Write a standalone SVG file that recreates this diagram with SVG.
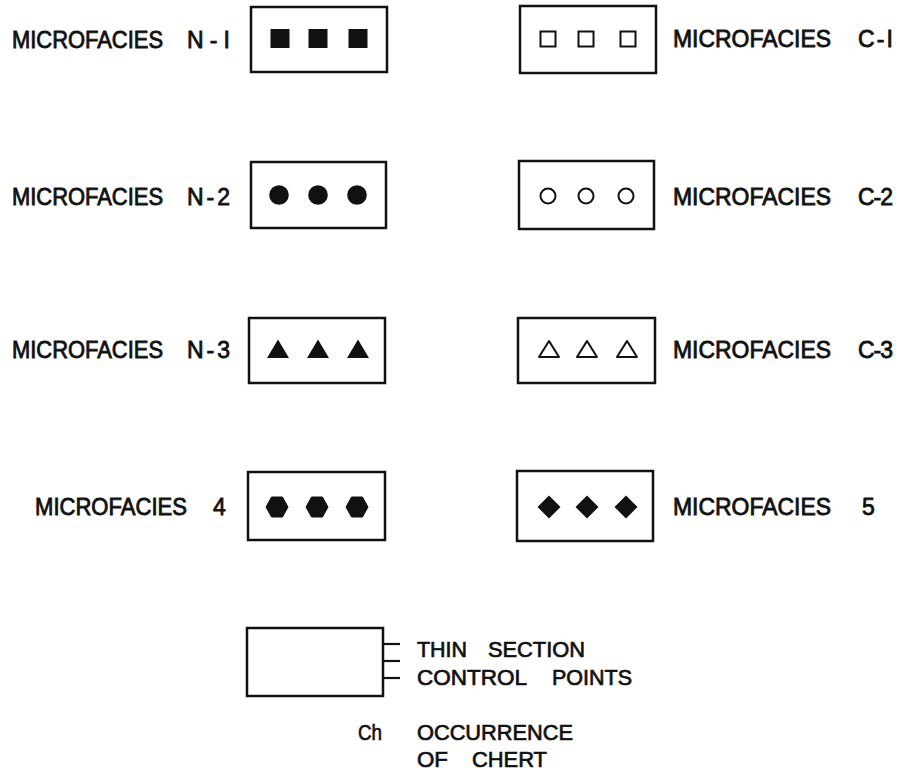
<svg xmlns="http://www.w3.org/2000/svg" xmlns:xlink="http://www.w3.org/1999/xlink" width="908" height="771" viewBox="0 0 908 771">
  <style>
    .box { fill: none; stroke: #111; stroke-width: 2.5; }
    .lbl { font-family: "Liberation Sans", Arial, sans-serif; font-size: 23px; fill: #111; stroke: #111; stroke-width: 0.8; }
    .leg { font-family: "Liberation Sans", Arial, sans-serif; font-size: 22px; fill: #111; stroke: #111; stroke-width: 0.7; }
    .tick { stroke: #111; stroke-width: 2.2; }
    .solid { fill: #111; }
    .open { fill: none; stroke: #111; stroke-width: 2; }
  </style>
  <defs>
    <rect id="sq-fill" class="solid" x="-9.5" y="-9.5" width="19" height="19"/>
    <rect id="sq-open" class="open" x="-7.5" y="-7.5" width="15" height="15"/>
    <circle id="ci-fill" class="solid" r="9.8"/>
    <circle id="ci-open" class="open" r="7.5"/>
    <polygon id="tr-fill" class="solid" points="0,-9.5 11,9 -11,9"/>
    <polygon id="tr-open" class="open" points="0,-8 10,8 -10,8" stroke-linejoin="round"/>
    <polygon id="hex-fill" class="solid" points="-11,0 -5.5,-10 5.5,-10 11,0 5.5,10 -5.5,10" stroke="#111" stroke-width="1" stroke-linejoin="round"/>
    <polygon id="dia-fill" class="solid" points="0,-11.5 11.5,0 0,11.5 -11.5,0"/>
  </defs>
  <rect width="908" height="771" fill="#fff"/>

  <!-- Microfacies N-1 -->
  <g id="n1">
    <text class="lbl" x="12" y="48" textLength="151" lengthAdjust="spacingAndGlyphs">MICROFACIES</text>
    <text class="lbl" x="187" y="48" textLength="43" lengthAdjust="spacing">N-I</text>
    <rect class="box" x="251" y="7" width="136" height="65"/>
    <use xlink:href="#sq-fill" x="280" y="38.5"/>
    <use xlink:href="#sq-fill" x="318" y="38.5"/>
    <use xlink:href="#sq-fill" x="358" y="38.5"/>
  </g>

  <!-- Microfacies C-1 -->
  <g id="c1">
    <rect class="box" x="520" y="6" width="136" height="67"/>
    <use xlink:href="#sq-open" x="548" y="39"/>
    <use xlink:href="#sq-open" x="586" y="39"/>
    <use xlink:href="#sq-open" x="628" y="39"/>
    <text class="lbl" x="673" y="47" textLength="158" lengthAdjust="spacingAndGlyphs">MICROFACIES</text>
    <text class="lbl" x="858" y="47" textLength="35" lengthAdjust="spacing">C-I</text>
  </g>

  <!-- Microfacies N-2 -->
  <g id="n2">
    <text class="lbl" x="12" y="205" textLength="151" lengthAdjust="spacingAndGlyphs">MICROFACIES</text>
    <text class="lbl" x="187" y="205" textLength="43" lengthAdjust="spacing">N-2</text>
    <rect class="box" x="251" y="162" width="135" height="66"/>
    <use xlink:href="#ci-fill" x="279" y="195"/>
    <use xlink:href="#ci-fill" x="318" y="195"/>
    <use xlink:href="#ci-fill" x="357" y="195"/>
  </g>

  <!-- Microfacies C-2 -->
  <g id="c2">
    <rect class="box" x="519" y="161" width="135" height="68"/>
    <use xlink:href="#ci-open" x="548" y="196"/>
    <use xlink:href="#ci-open" x="586" y="196"/>
    <use xlink:href="#ci-open" x="626" y="196"/>
    <text class="lbl" x="673" y="205" textLength="158" lengthAdjust="spacingAndGlyphs">MICROFACIES</text>
    <text class="lbl" x="858" y="205" textLength="35" lengthAdjust="spacing">C-2</text>
  </g>

  <!-- Microfacies N-3 -->
  <g id="n3">
    <text class="lbl" x="12" y="358" textLength="151" lengthAdjust="spacingAndGlyphs">MICROFACIES</text>
    <text class="lbl" x="187" y="358" textLength="43" lengthAdjust="spacing">N-3</text>
    <rect class="box" x="249" y="318" width="136" height="65"/>
    <use xlink:href="#tr-fill" x="278" y="349"/>
    <use xlink:href="#tr-fill" x="318" y="349"/>
    <use xlink:href="#tr-fill" x="358" y="349"/>
  </g>

  <!-- Microfacies C-3 -->
  <g id="c3">
    <rect class="box" x="518" y="318" width="137" height="65"/>
    <use xlink:href="#tr-open" x="549" y="349"/>
    <use xlink:href="#tr-open" x="587" y="349"/>
    <use xlink:href="#tr-open" x="627" y="349"/>
    <text class="lbl" x="673" y="358" textLength="158" lengthAdjust="spacingAndGlyphs">MICROFACIES</text>
    <text class="lbl" x="858" y="358" textLength="35" lengthAdjust="spacing">C-3</text>
  </g>

  <!-- Microfacies 4 -->
  <g id="m4">
    <text class="lbl" x="35" y="515" textLength="152" lengthAdjust="spacingAndGlyphs">MICROFACIES</text>
    <text class="lbl" x="213" y="515">4</text>
    <rect class="box" x="248" y="472" width="137" height="68"/>
    <use xlink:href="#hex-fill" x="277" y="507"/>
    <use xlink:href="#hex-fill" x="317" y="507"/>
    <use xlink:href="#hex-fill" x="357" y="507"/>
  </g>

  <!-- Microfacies 5 -->
  <g id="m5">
    <rect class="box" x="517" y="471" width="136" height="70"/>
    <use xlink:href="#dia-fill" x="549" y="507"/>
    <use xlink:href="#dia-fill" x="587" y="507"/>
    <use xlink:href="#dia-fill" x="626" y="507"/>
    <text class="lbl" x="673" y="515" textLength="158" lengthAdjust="spacingAndGlyphs">MICROFACIES</text>
    <text class="lbl" x="862" y="515">5</text>
  </g>

  <!-- Legend: thin section box with control points -->
  <g id="legend-box">
    <rect class="box" x="247" y="628" width="136" height="68"/>
  </g>
  <g id="connectors">
    <line class="tick" x1="383" y1="644" x2="400" y2="644"/>
    <line class="tick" x1="383" y1="661" x2="400" y2="661"/>
    <line class="tick" x1="383" y1="678" x2="400" y2="678"/>
  </g>
  <g id="legend-text">
    <text class="leg" x="417" y="657" textLength="50" lengthAdjust="spacingAndGlyphs">THIN</text>
    <text class="leg" x="488" y="657" textLength="97" lengthAdjust="spacingAndGlyphs">SECTION</text>
    <text class="leg" x="417" y="685" textLength="110" lengthAdjust="spacingAndGlyphs">CONTROL</text>
    <text class="leg" x="552" y="685" textLength="80" lengthAdjust="spacingAndGlyphs">POINTS</text>
  </g>

  <!-- Legend: chert occurrence -->
  <g id="legend-chert">
    <text class="leg" x="358" y="740" font-size="20" textLength="24" lengthAdjust="spacingAndGlyphs">Ch</text>
    <text class="leg" x="417" y="740" textLength="156" lengthAdjust="spacingAndGlyphs">OCCURRENCE</text>
    <text class="leg" x="417" y="767" textLength="31" lengthAdjust="spacingAndGlyphs">OF</text>
    <text class="leg" x="472" y="767" textLength="75" lengthAdjust="spacingAndGlyphs">CHERT</text>
  </g>
</svg>
